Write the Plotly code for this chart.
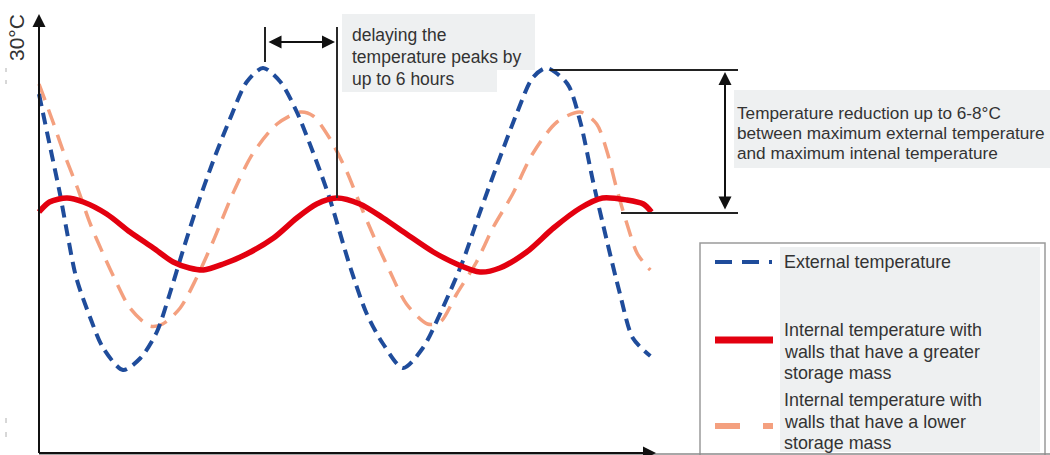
import plotly.graph_objects as go

# Values (hours from the y axis, degrees Celsius)
ext_hours = [0, 0.9, 1.8, 2.4, 3.2, 4.4, 5.5, 7.2, 8.7, 10.1, 11.2, 12.3, 13.5, 14.9,
             16.4, 17.8, 19.2, 20.7, 22.1, 23.8, 24.9, 26.7, 28.1, 29.5, 31.2, 32.9,
             34.6, 36.3, 37.8, 39.3, 41.0, 42.3, 43.5, 45.3, 46.4, 47.5, 48.7, 49.8,
             50.9, 52.4]
ext_temp = [27.8, 25.3, 22.8, 20.9, 18.6, 16.6, 15.1, 14.0, 14.6, 15.9, 17.8, 19.9,
            22.1, 24.4, 26.6, 28.4, 29.1, 28.4, 26.9, 24.4, 22.6, 19.1, 16.8, 15.3,
            14.1, 15.1, 17.1, 19.4, 21.9, 24.3, 26.9, 28.6, 29.1, 28.3, 26.4, 23.4,
            20.4, 17.8, 15.6, 14.7]

heavy_hours = [0, 0.9, 2.4, 3.8, 5.8, 7.8, 9.8, 11.5, 12.9, 14.1, 15.8, 17.8, 20.1,
               22.1, 23.8, 25.5, 27.5, 29.5, 31.5, 33.8, 35.8, 37.8, 39.5, 41.8, 44.1,
               46.4, 48.3, 50.4, 51.8, 52.5]
heavy_temp = [21.9, 22.4, 22.6, 22.4, 21.8, 20.9, 20.1, 19.4, 19.1, 19.0, 19.3, 19.8,
              20.6, 21.6, 22.3, 22.6, 22.3, 21.6, 20.8, 19.9, 19.3, 18.9, 19.1, 19.9,
              21.1, 22.1, 22.6, 22.5, 22.3, 21.9]

light_hours = [0, 1.2, 2.1, 3.3, 4.4, 5.5, 6.7, 7.8, 9.5, 10.6, 12.1, 13.5, 14.9, 16.6,
               18.3, 20.4, 22.4, 23.5, 24.9, 26.4, 27.3, 28.6, 30.1, 31.5, 33.3, 34.4,
               35.8, 37.5, 38.9, 40.6, 42.3, 44.4, 46.4, 47.8, 48.7, 49.5, 50.4, 51.3,
               52.4]
light_temp = [28.3, 26.4, 24.9, 23.1, 21.3, 19.8, 18.3, 17.1, 16.2, 16.3, 17.1, 18.6,
              20.4, 22.8, 24.8, 26.3, 26.9, 26.7, 25.6, 23.9, 22.6, 20.8, 18.9, 17.3,
              16.3, 16.4, 17.8, 19.4, 21.1, 22.8, 24.8, 26.4, 26.9, 26.3, 24.9, 23.1,
              21.3, 19.8, 19.0]

legend_labels = [
    ["External temperature"],
    ["Internal temperature with", "walls that have a greater", "storage mass"],
    ["Internal temperature with", "walls that have a lower", "storage mass"],
]
delay_text = ["delaying the", "temperature peaks by", "up to 6 hours"]
reduction_text = ["Temperature reduction up to 6-8°C",
                  "between maximum external temperature",
                  "and maximum intenal temperature"]

W, H = 1050, 455
PX_PER_HOUR = 280 / 24
PX_PER_DEG = 20
ORIGIN_X = 39

BLUE = "#1f4c9b"
RED = "#e3000f"
SALMON = "#f4a07f"
BOX = "#eef0f1"
TEXT = "#333333"
FONT = "Liberation Sans, Arial, sans-serif"


def px(x):
    return x / W


def py(y):
    return 1 - y / H


fig = go.Figure()

fig.add_trace(go.Scatter(x=light_hours, y=light_temp, mode="lines",
                         line=dict(color=SALMON, width=3.5, dash="17px,10px",
                                   shape="spline", smoothing=0.8)))
fig.add_trace(go.Scatter(x=ext_hours, y=ext_temp, mode="lines",
                         line=dict(color=BLUE, width=4, dash="12px,7px",
                                   shape="spline", smoothing=0.8)))
fig.add_trace(go.Scatter(x=heavy_hours, y=heavy_temp, mode="lines",
                         line=dict(color=RED, width=5.5, shape="spline", smoothing=0.8)))

shapes = []


def rect(x0, y0, x1, y1, fill, line_color=None, lw=0):
    shapes.append(dict(type="rect", xref="paper", yref="paper",
                       x0=px(x0), x1=px(x1), y0=py(y1), y1=py(y0),
                       fillcolor=fill, line=dict(color=line_color or fill, width=lw),
                       layer="below"))


def seg(x0, y0, x1, y1, color="#222222", width=2, dash="solid"):
    shapes.append(dict(type="line", xref="paper", yref="paper",
                       x0=px(x0), x1=px(x1), y0=py(y0), y1=py(y1),
                       line=dict(color=color, width=width, dash=dash)))


# text boxes
rect(342, 14, 535, 70, BOX)
rect(342, 70, 497, 92, BOX)
rect(734, 90, 1050, 168, BOX)
# legend box
rect(780, 247, 1040, 452, BOX)
shapes.append(dict(type="rect", xref="paper", yref="paper",
                   x0=px(700), x1=px(1045), y0=py(470), y1=py(243),
                   line=dict(color="#9a9a9a", width=1.5)))

# axes
seg(ORIGIN_X, 454, 1050, 454, color="#8a8a8a", width=1.5)
seg(ORIGIN_X, 453, 648, 453, color="#111111", width=2)
seg(ORIGIN_X, 453, ORIGIN_X, 24, color="#111111", width=2)
for y0, y1 in [(68, 72), (80, 84), (418, 423), (432, 437)]:
    seg(6, y0, 6, y1, color="#b0b0b0", width=1)

# delay marker
seg(265, 27, 265, 62, width=2)
seg(337, 27, 337, 198, color="#2a2a2a", width=2)
# reduction marker
seg(550, 70, 738, 70, width=2)
seg(621, 213, 738, 213, width=2)

# legend samples
seg(715, 262, 772, 262, color=BLUE, width=4, dash="17px,10px")
seg(715, 340, 773, 340, color=RED, width=7)
seg(715, 426, 773, 426, color=SALMON, width=6, dash="25px,23px")

annotations = []


def arrow(x, y, ax, ay, both=False):
    annotations.append(dict(xref="paper", yref="paper", x=px(x), y=py(y), ax=ax, ay=ay,
                            text="", showarrow=True, arrowhead=2, arrowsize=1.3,
                            arrowwidth=2, arrowcolor="#111111", standoff=0,
                            startstandoff=0, arrowside="end+start" if both else "end"))


def label(x, y, text, size=17.5, angle=0, anchor="left"):
    annotations.append(dict(xref="paper", yref="paper", x=px(x), y=py(y), text=text,
                            showarrow=False, xanchor=anchor, yanchor="middle",
                            textangle=angle, font=dict(family=FONT, size=size, color=TEXT)))


arrow(ORIGIN_X, 14, 0, 30)
arrow(656, 453, -20, 0)
arrow(335, 42, -68, 0, both=True)
arrow(725, 72, 0, 139, both=True)

label(16, 38, "30°C", size=21, angle=-90, anchor="center")
for i, t in enumerate(delay_text):
    label(350, 35 + 22 * i, t)
for i, t in enumerate(reduction_text):
    label(735, 113 + 20 * i, t, size=17.2)

legend_rows = [[262], [330, 352, 373], [400, 422, 443]]
for lines, rows in zip(legend_labels, legend_rows):
    for t, y in zip(lines, rows):
        label(782, y, t, size=17.9)

fig.update_layout(
    width=W, height=H,
    margin=dict(l=0, r=0, t=0, b=0),
    paper_bgcolor="white", plot_bgcolor="white",
    showlegend=False,
    xaxis=dict(visible=False, range=[-ORIGIN_X / PX_PER_HOUR, (W - ORIGIN_X) / PX_PER_HOUR]),
    yaxis=dict(visible=False, range=[32.5 - H / PX_PER_DEG, 32.5]),
    shapes=shapes,
    annotations=annotations,
)

# the page's default body margin would push the figure 8px off
fig.write_html("out.html", config={"displayModeBar": False},
               post_script="document.body.style.margin='0';document.body.style.overflow='hidden';")
